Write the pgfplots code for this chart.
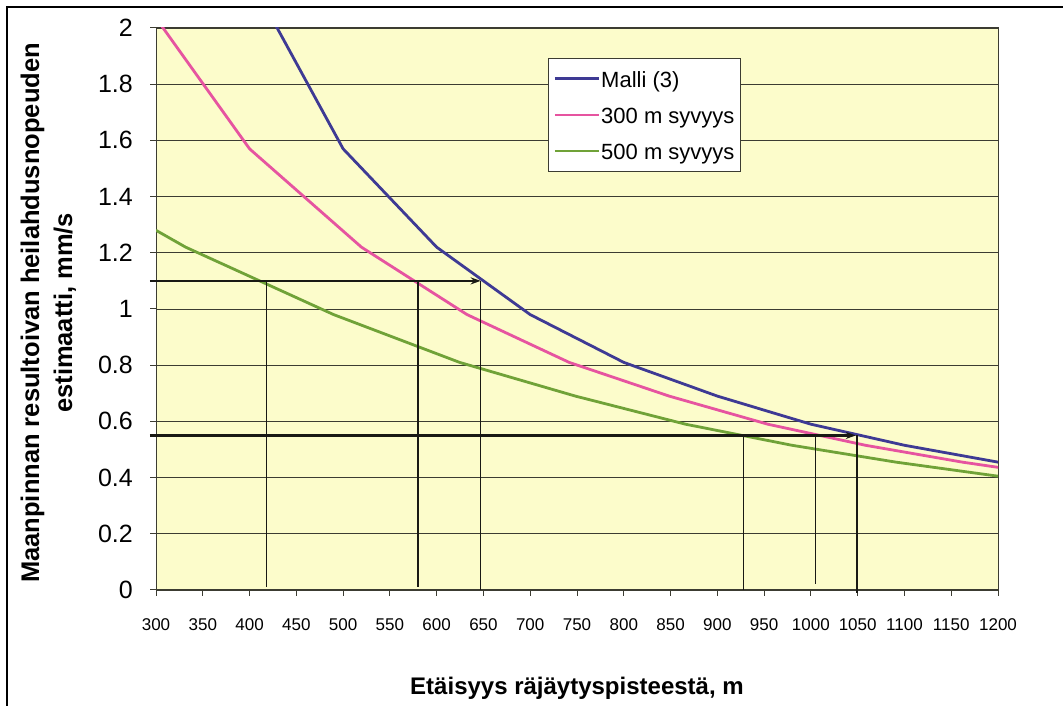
\documentclass[border=0pt]{standalone}
\usepackage{fontspec}
\setmainfont{Liberation Sans}
\usepackage{pgfplots}
\pgfplotsset{compat=1.18}
\usetikzlibrary{arrows.meta}
\definecolor{bg}{RGB}{252,252,203}
\definecolor{mblue}{RGB}{62,58,148}
\definecolor{mpink}{RGB}{230,84,160}
\definecolor{mgreen}{RGB}{112,162,56}
\definecolor{gridc}{RGB}{60,60,50}
\definecolor{annot}{RGB}{25,25,20}
\begin{document}
\begin{tikzpicture}[x=1bp,y=1bp]
\useasboundingbox (0,0) rectangle (1063,706);
\draw[line width=2bp, black] (7,0) -- (7,699) -- (1063,699);
\begin{axis}[
  at={(156bp,116bp)}, anchor=south west,
  scale only axis, width=842bp, height=562bp,
  xmin=300, xmax=1200, ymin=0, ymax=2,
  xtick={300,350,...,1200},
  ytick={0,0.2,0.4,0.6,0.8,1,1.2,1.4,1.6,1.8,2},
  /pgf/number format/assume math mode=true,
  /pgf/number format/set thousands separator={},
  axis background/.style={fill=bg},
  ymajorgrids, grid style={gridc, line width=0.8bp},
  axis line style={gridc, line width=1bp},
  tick style={gridc, line width=1bp},
  major tick length=6bp,
  tick align=outside, xtick pos=lower, ytick pos=left,
  x tick label style={font=\fontsize{17bp}{20bp}\selectfont, inner sep=0pt, anchor=north, yshift=-22bp},
  y tick label style={font=\fontsize{25bp}{30bp}\selectfont, inner sep=0pt, anchor=east, xshift=-17bp},
  xlabel={Etäisyys räjäytyspisteestä, m},
  every axis x label/.style={at={(axis description cs:0.5,-0.1868)}, anchor=base, font=\fontsize{24bp}{28bp}\selectfont\bfseries, inner sep=0pt},
  ylabel={Maanpinnan resultoivan heilahdusnopeuden\\estimaatti, mm/s},
  every axis y label/.style={at={(axis description cs:-0.1277,0.493)}, rotate=90, anchor=center, align=center, font=\fontsize{25.5bp}{33bp}\selectfont\bfseries, inner sep=0pt},
  legend style={at={(axis description cs:0.4656,0.9466)}, anchor=north west, draw=gridc, line width=0.8bp, fill=white,
    font=\fontsize{22bp}{26bp}\selectfont, inner xsep=5bp, inner ysep=6bp, row sep=7bp,
    nodes={inner sep=1bp, text height=22bp, text depth=5bp}},
  legend cell align=left,
  legend image code/.code={\draw[#1] (0bp,0bp) -- (44bp,0bp);},
  clip mode=individual,
]
\addplot[mblue, line width=2.8bp] coordinates {(400,2.18) (500,1.57) (600,1.22) (700,0.98) (800,0.81) (900,0.69) (1000,0.59) (1100,0.515) (1200,0.455)};
\addlegendentry{Malli (3)}
\addplot[mpink, line width=2.8bp] coordinates {(264.6,2.2) (400,1.57) (519.6,1.22) (632.5,0.98) (741.6,0.81) (848.5,0.69) (953.9,0.59) (1058.3,0.515) (1161.9,0.455) (1264.9,0.405)};
\addlegendentry{300 m syvyys}
\addplot[mgreen, line width=2.8bp] coordinates {(300,1.28) (331.7,1.22) (489.9,0.98) (624.5,0.81) (748.3,0.69) (866,0.59) (979.8,0.515) (1090.9,0.455) (1200,0.405)};
\addlegendentry{500 m syvyys}
\addplot[annot, line width=2.6bp, -{Stealth[length=10bp,width=7bp]}, forget plot, clip=false] coordinates {(293.5,1.1) (647,1.1)};
\addplot[annot, line width=1.6bp, forget plot] coordinates {(418,1.1) (418,0.01)};
\addplot[annot, line width=1.6bp, forget plot] coordinates {(580,1.1) (580,0.01)};
\addplot[annot, line width=1.6bp, forget plot] coordinates {(647,1.1) (647,0)};
\addplot[annot, line width=2.6bp, -{Stealth[length=10bp,width=7bp]}, forget plot, clip=false] coordinates {(293.5,0.55) (1048,0.55)};
\addplot[annot, line width=1.6bp, forget plot] coordinates {(928,0.55) (928,0)};
\addplot[annot, line width=1.6bp, forget plot] coordinates {(1005,0.55) (1005,0.02)};
\addplot[annot, line width=1.6bp, forget plot, clip=false] coordinates {(1049,0.55) (1049,-0.01)};
\end{axis}
\end{tikzpicture}
\end{document}
